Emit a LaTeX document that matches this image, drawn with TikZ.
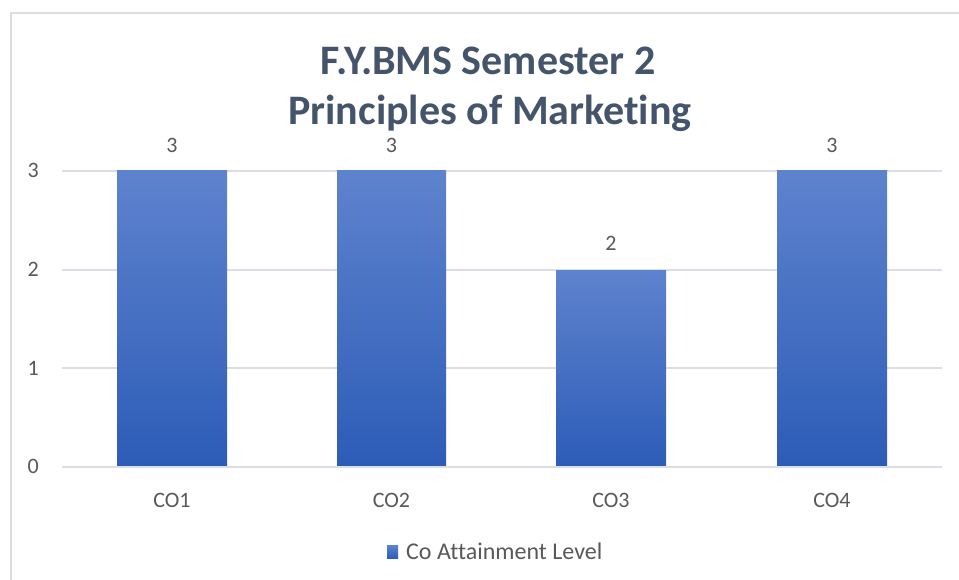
\documentclass[tikz,border=0pt]{standalone}
\usepackage{fontspec}
\setmainfont{Carlito}[Ligatures=NoCommon]
\definecolor{titlegray}{RGB}{68,84,106}
\definecolor{textgray}{RGB}{89,89,89}
\definecolor{gridgray}{RGB}{217,222,229}
\definecolor{bartop}{RGB}{94,131,206}
\definecolor{barbottom}{RGB}{45,92,183}

\begin{document}
\begin{tikzpicture}[x=1bp, y=-1bp,
  grid/.style={gridgray, line width=2bp},
  bar/.style={top color=bartop, bottom color=barbottom, draw=none},
  ticklabel/.style={textgray, font=\fontsize{22bp}{26bp}\selectfont, inner sep=0pt},
  charttitle/.style={titlegray, font=\fontsize{42bp}{49bp}\selectfont\bfseries, inner sep=0pt}]
\useasboundingbox (0, 0) rectangle (959, 580) ;
\fill [white] (0, 0) rectangle (959, 580) ;

\coordinate (F0) at (11, 580) ;
\coordinate (F1) at (11, 13) ;
\coordinate (F2) at (960, 13) ;
\draw [grid] (F0) -- (F1) -- (F2) ;

% gridlines
\draw [grid] (62, 171) -- (942, 171) ;
\draw [grid] (62, 270) -- (942, 270) ;
\draw [grid] (62, 368) -- (942, 368) ;

% bars
\fill [bar] (117, 466) rectangle (227, 171) ;
\fill [bar] (337, 466) rectangle (446, 171) ;
\fill [bar] (556, 466) rectangle (666, 270) ;
\fill [bar] (777, 466) rectangle (887, 171) ;
\draw [grid] (62, 467) -- (942, 467) ;

% title
\node [charttitle, anchor=base] (T1) at (488, 75) {F.Y.BMS Semester 2} ;
\node [charttitle, anchor=base] (T2) at (490, 125) {Principles of Marketing} ;

% values
\node [ticklabel, anchor=base] (V1) at (172, 153) {3} ;
\node [ticklabel, anchor=base] (V2) at (391.5, 153) {3} ;
\node [ticklabel, anchor=base] (V3) at (611, 251) {2} ;
\node [ticklabel, anchor=base] (V4) at (832, 153) {3} ;

% axis
\node [ticklabel, anchor=base east] (Y3) at (39, 178) {3} ;
\node [ticklabel, anchor=base east] (Y2) at (39, 277) {2} ;
\node [ticklabel, anchor=base east] (Y1) at (39, 375) {1} ;
\node [ticklabel, anchor=base east] (Y0) at (39, 473) {0} ;
\node [ticklabel, anchor=base] (C1) at (172, 507) {CO1} ;
\node [ticklabel, anchor=base] (C2) at (391.5, 507) {CO2} ;
\node [ticklabel, anchor=base] (C3) at (611, 507) {CO3} ;
\node [ticklabel, anchor=base] (C4) at (832, 507) {CO4} ;

% legend
\fill [bar] (387, 558) rectangle (398, 545) ;
\node [ticklabel, anchor=base west, font=\fontsize{24bp}{28bp}\selectfont] (L) at (406, 559) {Co Attainment Level} ;
\end{tikzpicture}
\end{document}
